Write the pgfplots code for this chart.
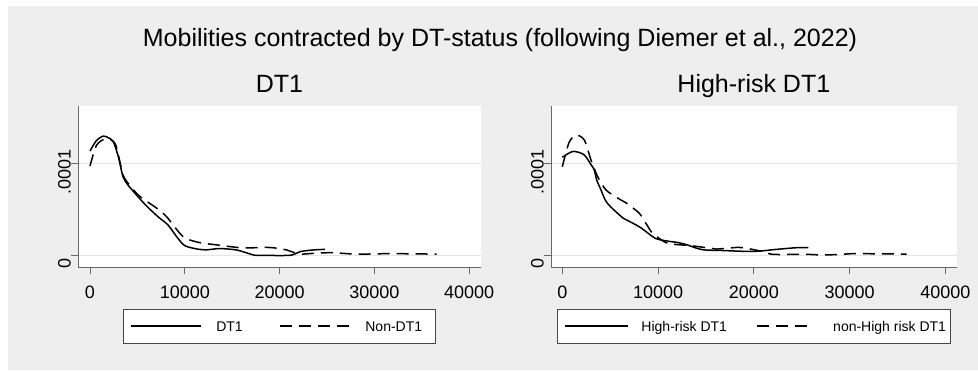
\documentclass[border=0pt]{standalone}
\usepackage{fontspec}
\setmainfont{Liberation Sans}
\usepackage{pgfplots}
\pgfplotsset{compat=1.18}
\definecolor{bggray}{RGB}{238,238,238}
\definecolor{axgray}{RGB}{105,105,105}
\definecolor{gridgray}{RGB}{228,228,228}
\definecolor{leggray}{RGB}{70,70,70}
\newcommand{\legfont}{\fontsize{14}{16}\selectfont}
\pgfplotsset{
  stataax/.style={
    scale only axis, height=161pt,
    axis x line=bottom, axis y line=left,
    axis line style={-, draw=axgray, line width=0.9pt},
    axis background/.style={fill=white},
    ymin=-1.277e-5, ymax=1.630e-4,
    xtick={0,10000,20000,30000,40000},
    xticklabels={0,10000,20000,30000,40000},
    ytick={0,0.0001}, yticklabels={0,.0001},
    scaled x ticks=false, scaled y ticks=false,
    /pgf/number format/assume math mode=true,
    tick align=outside, major tick length=7pt,
    tick style={draw=axgray, line width=0.9pt},
    ymajorgrids, major grid style={draw=gridgray, line width=1pt},
    xticklabel style={font=\fontsize{18}{20}\selectfont, anchor=north, inner sep=0pt, yshift=-12pt},
    yticklabel style={font=\fontsize{18}{20}\selectfont, rotate=90, anchor=south, inner sep=0pt, xshift=-8pt},
    title style={font=\fontsize{25}{30}\selectfont, at={(0.5,1)}, anchor=base, yshift=7.7pt, inner sep=0pt},
    legend columns=2, legend cell align=left,
    legend style={at={(0.5,-0.2609)}, anchor=north, draw=leggray, line width=1pt,
      fill=white, inner sep=0pt, outer sep=0pt, column sep=0pt,
      nodes={inner sep=0pt, outer sep=0pt, text height=10pt, text depth=0pt, anchor=west}},
  },
  solidc/.style={black, line width=1.5pt, smooth, tension=0.45},
  dashc/.style={black, line width=1.5pt, smooth, tension=0.45, dash pattern=on 12pt off 7pt},
  legA/.style={legend image code/.code={\path[draw=none,fill=none] (0pt,-17pt) rectangle (92.7pt,17pt); \draw[##1] (7.7pt,0pt) -- (77.7pt,0pt);}},
  legB/.style={legend image code/.code={\path[draw=none,fill=none] (0pt,-17pt) rectangle (85pt,17pt); \draw[##1] (0pt,0pt) -- (70pt,0pt);}},
  legC/.style={legend image code/.code={\path[draw=none,fill=none] (0pt,-17pt) rectangle (84pt,17pt); \draw[##1] (8pt,0pt) -- (70.3pt,0pt);}},
  legD/.style={legend image code/.code={\path[draw=none,fill=none] (0pt,-17pt) rectangle (76pt,17pt); \draw[##1] (0pt,0pt) -- (53pt,0pt);}},
}
\begin{document}
\begin{tikzpicture}[x=1pt,y=1pt]
\fill[white] (0,0) rectangle (978,370);
\fill[bggray] (8,0) rectangle (978,364);
\node[anchor=base, font=\fontsize{25}{30}\selectfont, inner sep=0pt] at (500,323.3)
  {Mobilities contracted by DT-status (following Diemer et al., 2022)};

\begin{axis}[stataax, at={(78pt,103pt)}, anchor=south west, width=403pt,
  xmin=-1266, xmax=41246, title={DT1}]
\addplot[solidc, legA]
coordinates {(0,1.139e-4) (665,1.251e-4) (1406,1.302e-4) (2000,1.28e-4) (2460,1.241e-4)
 (2988,1.077e-4) (3481,0.858e-4) (4008,0.767e-4) (5063,0.640e-4) (6000,0.535e-4)
 (7173,0.421e-4) (8228,0.331e-4) (9142,0.203e-4) (10000,0.105e-4) (11392,0.067e-4)
 (12300,0.060e-4) (13502,0.073e-4) (14400,0.070e-4) (15612,0.055e-4) (17194,0.005e-4)
 (17800,0) (21097,0) (22152,0.040e-4) (23500,0.058e-4) (24789,0.065e-4)};
\addlegendentry{\makebox[63.3pt][l]{\legfont DT1}}
\addplot[dashc, legB]
coordinates {(0,0.975e-4) (703,1.204e-4) (1758,1.277e-4) (2637,1.222e-4) (3000,1.09e-4)
 (3515,0.87e-4) (4219,0.76e-4) (5063,0.66e-4) (5770,0.604e-4) (7100,0.51e-4)
 (8087,0.421e-4) (9000,0.30e-4) (9986,0.19e-4) (11603,0.138e-4) (13502,0.112e-4)
 (15612,0.085e-4) (16800,0.080e-4) (18430,0.088e-4) (20000,0.075e-4) (20745,0.058e-4)
 (22152,0.014e-4) (24000,0.025e-4) (25668,0.028e-4) (27777,0.014e-4) (30000,0.015e-4)
 (31997,0.020e-4) (34000,0.015e-4) (36565,0.014e-4)};
\addlegendentry{\makebox[70pt][l]{\legfont Non-DT1}}
\end{axis}

\begin{axis}[stataax, at={(551pt,103pt)}, anchor=south west, width=405.7pt,
  xmin=-1180, xmax=41191, title={High-risk DT1}]
\addplot[solidc, legC]
coordinates {(0,1.07e-4) (600,1.11e-4) (1200,1.135e-4) (2250,1.10e-4) (3000,0.99e-4)
 (3342,0.931e-4) (3593,0.822e-4) (4042,0.713e-4) (4500,0.60e-4) (5086,0.525e-4)
 (6371,0.404e-4) (6830,0.38e-4) (8219,0.30e-4) (9700,0.186e-4) (11000,0.155e-4)
 (12050,0.14e-4) (13000,0.115e-4) (14600,0.062e-4) (16815,0.052e-4) (19948,0.042e-4)
 (22392,0.065e-4) (24480,0.083e-4) (25692,0.083e-4)};
\addlegendentry{\makebox[115pt][l]{\legfont High-risk DT1}}
\addplot[dashc, legD]
coordinates {(0,0.967e-4) (700,1.23e-4) (1431,1.313e-4) (2298,1.259e-4) (2998,1.04e-4)
 (3697,0.858e-4) (4564,0.713e-4) (5786,0.625e-4) (6700,0.57e-4) (7175,0.531e-4)
 (8115,0.45e-4) (9264,0.26e-4) (9681,0.22e-4) (11008,0.131e-4) (13441,0.105e-4)
 (15530,0.076e-4) (16123,0.068e-4) (18320,0.087e-4) (18903,0.083e-4) (20992,0.04e-4)
 (22036,0.01e-4) (25524,0.01e-4) (27260,0.003e-4) (29000,0.01e-4) (30746,0.02e-4)
 (33000,0.015e-4) (35969,0.014e-4)};
\addlegendentry{\makebox[117pt][l]{\legfont non-High risk DT1}}
\end{axis}
\pgfresetboundingbox
\useasboundingbox (0,0) rectangle (978,370);
\end{tikzpicture}
\end{document}
